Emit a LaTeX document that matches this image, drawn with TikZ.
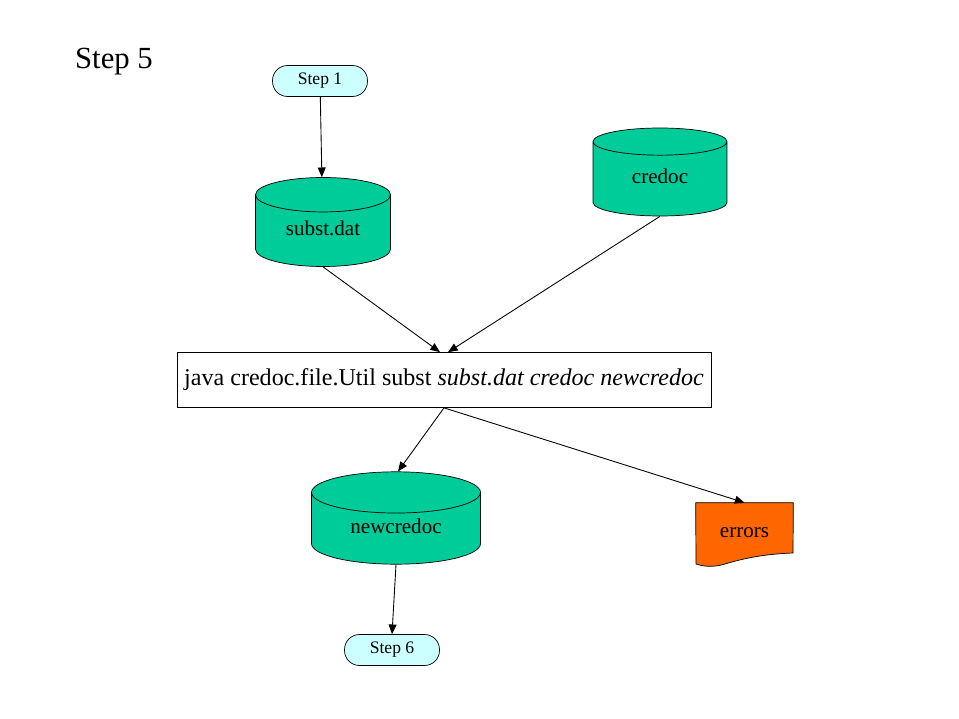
\documentclass[tikz,border=0pt]{standalone}
\usepackage{fontspec}
\setmainfont{Liberation Serif}
\usetikzlibrary{arrows.meta,shapes.geometric,backgrounds}
\definecolor{dbgreen}{RGB}{0,204,153}
\definecolor{stepcyan}{RGB}{204,255,255}
\definecolor{errorange}{RGB}{255,102,0}

\begin{document}
\begin{tikzpicture}[x=0.02cm, y=-0.02cm, >={Triangle[length=5.5pt,width=4.5pt]},
    stepbox/.style={draw, fill=stepcyan, rounded corners=0.3cm, minimum width=1.9cm, minimum height=0.62cm, font=\fontsize{10}{12}\selectfont},
    db/.style={cylinder, shape border rotate=90, draw, fill=dbgreen, aspect=0.4, anchor=shape center, text depth=6.5pt, font=\fontsize{12}{14}\selectfont},
    cmd/.style={draw, minimum width=10.68cm, minimum height=1.1cm, font=\fontsize{13.7}{15}\selectfont},
    flow/.style={->, line width=0.5pt}]
    \useasboundingbox (0,0) rectangle (959,719);
    \node[font=\fontsize{17.5}{20}\selectfont] (title) at (114,62) {Step 5};
    \node[stepbox] (step1) at (320,81) {Step 1};
    \node[db, minimum width=2.7cm, minimum height=1.78cm] (subst) at (323,222) {subst.dat};
    \node[db, minimum width=2.68cm, minimum height=1.76cm] (credoc) at (660,172) {credoc};
    \node[cmd] (util) at (444,380) {java credoc.file.Util subst \textit{subst.dat credoc newcredoc}};
    \node[db, minimum width=3.38cm, minimum height=1.8cm] (newcredoc) at (396,518) {newcredoc};
    \node[minimum width=1.94cm, minimum height=1.2cm, font=\fontsize{12}{14}\selectfont] (errors) at (744.5,533) {errors};
    \begin{scope}[on background layer]
        \draw[fill=errorange] (errors.north west) -- (errors.north east) -- (793,553)
            .. controls (765,554) and (745,558) .. (725,564)
            .. controls (712,568) and (702,566) .. (696,564) -- cycle;
    \end{scope}
    \node[stepbox] (step6) at (392,650) {Step 6};
    \draw[flow] (step1) -- (subst);
    \draw[flow] (subst.south) -- ([xshift=-0.08cm]util.north);
    \draw[flow] (credoc.south) -- ([xshift=0.08cm]util.north);
    \draw[flow] (util.south) -- ([xshift=0.04cm]newcredoc.north);
    \draw[flow] (util.south) -- (errors.north);
    \draw[flow] (newcredoc.south) -- (step6.north);
\end{tikzpicture}
\end{document}
